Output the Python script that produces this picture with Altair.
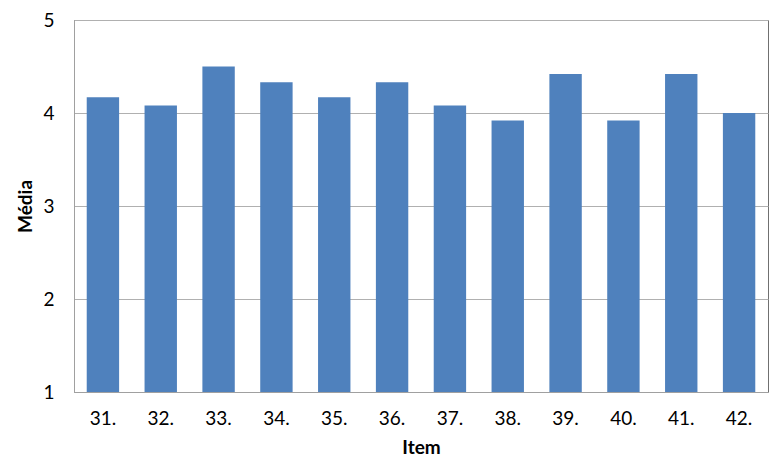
import altair as alt
import pandas as pd

items = ["31.", "32.", "33.", "34.", "35.", "36.", "37.", "38.", "39.", "40.", "41.", "42."]
medias = [4.17, 4.08, 4.50, 4.33, 4.17, 4.33, 4.08, 3.92, 4.42, 3.92, 4.42, 4.00]

df = pd.DataFrame({"Item": items, "Média": medias})

FONT = "Lato"

chart = alt.Chart(df).mark_bar(color="#4F81BD").encode(
    x=alt.X("Item:N", sort=items,
            scale=alt.Scale(paddingInner=0.44, paddingOuter=0.22),
            axis=alt.Axis(title="Item", labelAngle=0, ticks=False,
                          labelPadding=17, titlePadding=10,
                          domainColor="#A0A0A0", grid=False)),
    y=alt.Y("Média:Q",
            scale=alt.Scale(domain=[1, 5], zero=False, nice=False),
            axis=alt.Axis(title="Média", values=[1, 2, 3, 4, 5], format="d",
                          ticks=False, labelPadding=20, titlePadding=7,
                          domainColor="#A0A0A0", gridColor="#B0B0B0")),
    y2=alt.datum(1),
).properties(
    width=694, height=372,
    autosize=alt.AutoSizeParams(type="none"),
    padding={"left": 66, "top": 12, "right": 3, "bottom": 70},
).configure_view(
    stroke="#707070", strokeWidth=1
).configure_axis(
    labelFont=FONT, titleFont=FONT, labelFontSize=19, titleFontSize=19,
    labelColor="#000000", titleColor="#000000", titleFontWeight="bold",
)

chart.save("out.html", embed_options={"renderer": "svg", "actions": False})
